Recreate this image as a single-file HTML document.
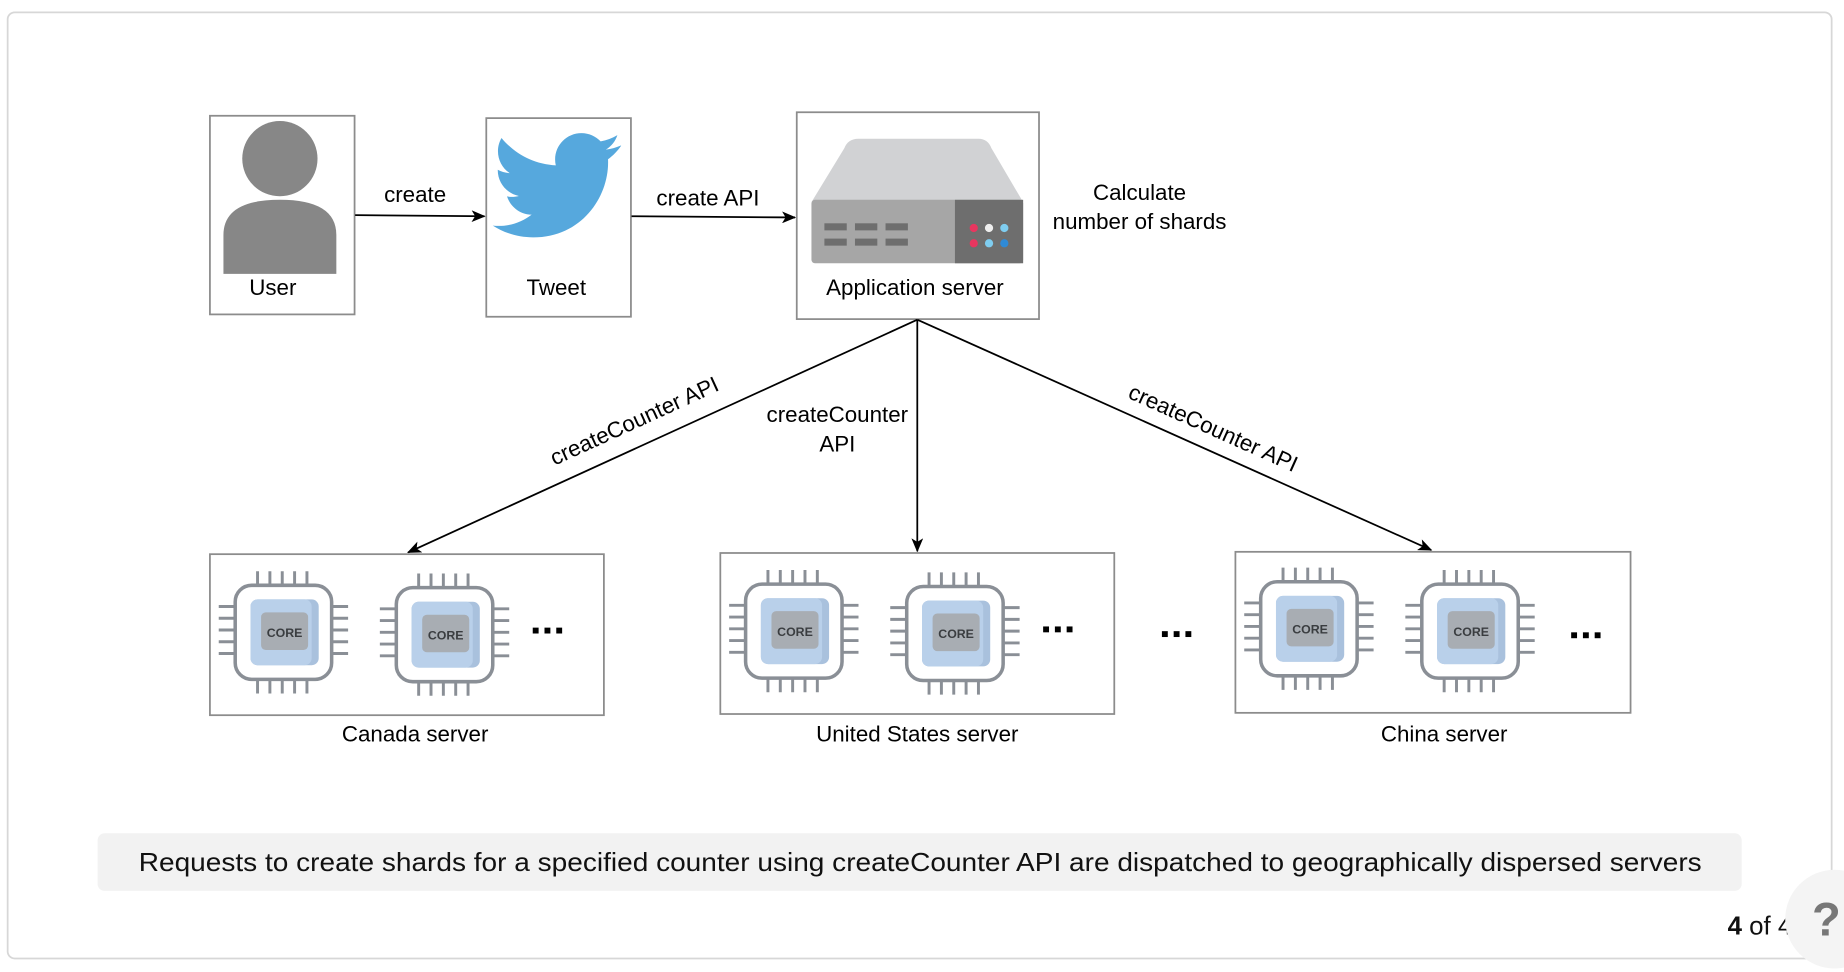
<!DOCTYPE html>
<html><head><meta charset="utf-8"><style>
html,body{margin:0;padding:0;background:#fff;}
svg{display:block;}
text{font-family:"Liberation Sans",Arial,sans-serif;}
</style></head><body>
<svg width="1844" height="972" viewBox="0 0 1568 827" preserveAspectRatio="none" xmlns="http://www.w3.org/2000/svg">
<defs>
<marker id="ar" markerWidth="12" markerHeight="10" refX="11" refY="5" orient="auto" markerUnits="userSpaceOnUse">
<path d="M0,0 L12,5 L0,10 L3,5 z" fill="#000"/></marker>
<g id="chip">
<g stroke="#8a8f96" stroke-width="2.5" fill="none">
<path d="M19,-12V0 M29.5,-12V0 M40,-12V0 M50.5,-12V0 M61,-12V0"/>
<path d="M19,80V92 M29.5,80V92 M40,80V92 M50.5,80V92 M61,80V92"/>
<path d="M-14,18H0 M-14,28H0 M-14,38H0 M-14,48H0 M-14,58H0"/>
<path d="M82,18H96 M82,28H96 M82,38H96 M82,48H96 M82,58H96"/>
</g>
<rect x="0" y="0" width="82" height="80" rx="14" fill="#fff" stroke="#8a8f96" stroke-width="3"/>
<rect x="13" y="12" width="58" height="56" rx="6" fill="#a9c1dd"/>
<rect x="13" y="12" width="52" height="56" rx="6" fill="#b9d0ea"/>
<rect x="22" y="23" width="40" height="32" rx="4" fill="#a8adb3"/>
<text x="42" y="44" font-size="10.5" font-weight="bold" fill="#3a3d40" text-anchor="middle">CORE</text>
</g>
</defs>
<rect x="6.5" y="10.5" width="1551" height="805" rx="6" fill="#fff" stroke="#d7d7d7" stroke-width="1.5"/>

<!-- User -->
<rect x="178.5" y="98.5" width="123" height="169" fill="#fff" stroke="#8c8c8c" stroke-width="1.5"/>
<circle cx="238" cy="135" r="32" fill="#878787"/>
<path d="M190,233 V200 Q190,170 238,170 Q286,170 286,200 V233 Z" fill="#878787"/>
<text x="232" y="251" font-size="19" text-anchor="middle">User</text>

<!-- Tweet -->
<rect x="413.5" y="100.5" width="123" height="169" fill="#fff" stroke="#8c8c8c" stroke-width="1.5"/>
<path transform="translate(419,103) scale(4.55)" fill="#56a8dd" d="M23.954 4.569c-.885.389-1.83.654-2.825.775 1.014-.611 1.794-1.574 2.163-2.723-.951.555-2.005.959-3.127 1.184-.896-.959-2.173-1.559-3.591-1.559-2.717 0-4.92 2.203-4.92 4.917 0 .39.045.765.127 1.124C7.691 8.094 4.066 6.13 1.64 3.161c-.427.722-.666 1.561-.666 2.475 0 1.71.87 3.213 2.188 4.096-.807-.026-1.566-.248-2.228-.616v.061c0 2.385 1.693 4.374 3.946 4.827-.413.111-.849.171-1.296.171-.314 0-.615-.03-.916-.086.631 1.953 2.445 3.377 4.604 3.417-1.68 1.319-3.809 2.105-6.102 2.105-.39 0-.779-.023-1.17-.067 2.189 1.394 4.768 2.209 7.557 2.209 9.054 0 13.999-7.496 13.999-13.986 0-.209 0-.42-.015-.63.961-.689 1.8-1.56 2.46-2.548l-.047-.02z"/>
<text x="473" y="251" font-size="19" text-anchor="middle">Tweet</text>

<!-- App server -->
<rect x="677.5" y="95.5" width="206" height="176" fill="#fff" stroke="#8c8c8c" stroke-width="1.5"/>
<path d="M690,172 L718,126 Q721,118 730,118 L832,118 Q840,118 843,126 L870,172 Z" fill="#d1d2d4"/>
<rect x="690" y="170" width="180" height="54" rx="3" fill="#a6a6a6"/>
<rect x="812" y="170" width="58" height="54" fill="#6e6e6e"/>
<g fill="#6e6e6e">
<rect x="701" y="190" width="19" height="6"/><rect x="727" y="190" width="19" height="6"/><rect x="753" y="190" width="19" height="6"/>
<rect x="701" y="203" width="19" height="6"/><rect x="727" y="203" width="19" height="6"/><rect x="753" y="203" width="19" height="6"/>
</g>
<circle cx="828" cy="194" r="3.5" fill="#e8365f"/><circle cx="841" cy="194" r="3.5" fill="#eeeeee"/><circle cx="854" cy="194" r="3.5" fill="#7fcdf0"/>
<circle cx="828" cy="207" r="3.5" fill="#e8365f"/><circle cx="841" cy="207" r="3.5" fill="#7fcdf0"/><circle cx="854" cy="207" r="3.5" fill="#2f8ad6"/>
<text x="778" y="251" font-size="19" text-anchor="middle">Application server</text>
<text x="969" y="170" font-size="19" text-anchor="middle">Calculate</text>
<text x="969" y="195" font-size="19" text-anchor="middle">number of shards</text>

<!-- top arrows -->
<line x1="302" y1="183" x2="412" y2="184" stroke="#000" stroke-width="1.5" marker-end="url(#ar)"/>
<text x="353" y="172" font-size="19" text-anchor="middle">create</text>
<line x1="537" y1="184" x2="676" y2="185" stroke="#000" stroke-width="1.5" marker-end="url(#ar)"/>
<text x="602" y="175" font-size="19" text-anchor="middle">create API</text>

<!-- down arrows -->
<line x1="780" y1="272" x2="347" y2="470" stroke="#000" stroke-width="1.5" marker-end="url(#ar)"/>
<line x1="780" y1="272" x2="780" y2="469" stroke="#000" stroke-width="1.5" marker-end="url(#ar)"/>
<line x1="780" y1="272" x2="1217" y2="468" stroke="#000" stroke-width="1.5" marker-end="url(#ar)"/>
<text transform="translate(542,364) rotate(-24.6)" font-size="19" text-anchor="middle">createCounter API</text>
<text x="712" y="359" font-size="19" text-anchor="middle">createCounter</text>
<text x="712" y="384" font-size="19" text-anchor="middle">API</text>
<text transform="translate(1029,370) rotate(24.2)" font-size="19" text-anchor="middle">createCounter API</text>

<!-- server boxes -->
<rect x="178.5" y="471.5" width="335" height="137" fill="#fff" stroke="#8c8c8c" stroke-width="1.5"/>
<rect x="612.5" y="470.5" width="335" height="137" fill="#fff" stroke="#8c8c8c" stroke-width="1.5"/>
<rect x="1050.5" y="469.5" width="336" height="137" fill="#fff" stroke="#8c8c8c" stroke-width="1.5"/>
<use href="#chip" x="200" y="498"/><use href="#chip" x="337" y="500"/>
<use href="#chip" x="634" y="497"/><use href="#chip" x="771" y="499"/>
<use href="#chip" x="1072" y="495"/><use href="#chip" x="1209" y="497"/>
<g fill="#000">
<rect x="453" y="534" width="5" height="5"/><rect x="463" y="534" width="5" height="5"/><rect x="473" y="534" width="5" height="5"/>
<rect x="887" y="533" width="5" height="5"/><rect x="897" y="533" width="5" height="5"/><rect x="907" y="533" width="5" height="5"/>
<rect x="988" y="537" width="5" height="5"/><rect x="998" y="537" width="5" height="5"/><rect x="1008" y="537" width="5" height="5"/>
<rect x="1336" y="538" width="5" height="5"/><rect x="1346" y="538" width="5" height="5"/><rect x="1356" y="538" width="5" height="5"/>
</g>
<text x="353" y="631" font-size="19" text-anchor="middle">Canada server</text>
<text x="780" y="631" font-size="19" text-anchor="middle">United States server</text>
<text x="1228" y="631" font-size="19" text-anchor="middle">China server</text>

<!-- caption -->
<rect x="83" y="709" width="1398" height="49" rx="6" fill="#f2f2f2"/>
<text x="118" y="741" font-size="22" fill="#111" textLength="1329" lengthAdjust="spacingAndGlyphs">Requests to create shards for a specified counter using createCounter API are dispatched to geographically dispersed servers</text>

<text x="1469" y="795" font-size="22" fill="#111"><tspan font-weight="bold">4</tspan> of 4</text>
<circle cx="1560" cy="782" r="42" fill="#f4f4f4"/>
<text x="1553" y="796" font-size="40" fill="#777" text-anchor="middle" font-weight="bold">?</text>
</svg>
</body></html>
